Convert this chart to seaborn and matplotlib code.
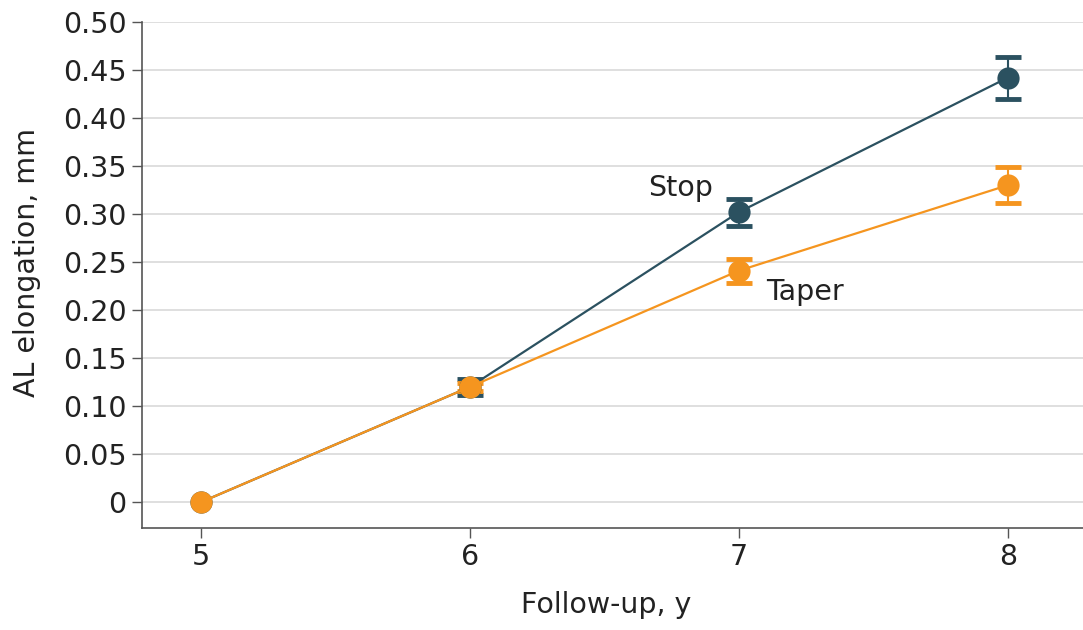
import matplotlib
matplotlib.use("Agg")
import matplotlib.pyplot as plt
import seaborn as sns
import pandas as pd

years = [5, 6, 7, 8]
stop_vals = [0.0, 0.12, 0.302, 0.442]
stop_err = [0.0, 0.008, 0.014, 0.022]
taper_vals = [0.0, 0.12, 0.241, 0.330]
taper_err = [0.0, 0.004, 0.0125, 0.019]
series_names = ["Stop", "Taper"]
colors = {"Stop": "#2b5160", "Taper": "#f5951f"}

df = pd.DataFrame({
    "year": years * 2,
    "value": stop_vals + taper_vals,
    "err": stop_err + taper_err,
    "group": ["Stop"] * 4 + ["Taper"] * 4,
})

sns.set_theme(style="white")
plt.rcParams["font.family"] = ["DejaVu Sans"]
FS = 20.5

fig = plt.figure(figsize=(10.83, 6.3), dpi=100)
ax = fig.add_axes([142 / 1083, 1 - 528 / 630, (1083 - 142) / 1083, (528 - 22) / 630])

for name in series_names:
    sub = df[df["group"] == name]
    c = colors[name]
    eb = sub[sub["err"] > 0]
    ax.errorbar(eb["year"], eb["value"], yerr=eb["err"], fmt="none",
                ecolor=c, elinewidth=1.5, capsize=9.4, capthick=3.5, zorder=3)
    sns.lineplot(data=sub, x="year", y="value", ax=ax, color=c, linewidth=1.6,
                 marker="o", markersize=16, markeredgewidth=0, zorder=4)

ax.set_xlim(4.78, 8.28)
ax.set_ylim(-0.027, 0.50)
ax.set_xticks(years)
ax.set_xticklabels([str(y) for y in years])
yt = [i * 0.05 for i in range(11)]
ax.set_yticks(yt)
ax.set_yticklabels(["0"] + [f"{v:.2f}" for v in yt[1:]])
ax.yaxis.grid(True, color="#d9d9d9", linewidth=1.2)
ax.xaxis.grid(False)
for s in ["top", "right"]:
    ax.spines[s].set_visible(False)
for s in ["left", "bottom"]:
    ax.spines[s].set_color("#555555")
    ax.spines[s].set_linewidth(1.2)
ax.tick_params(axis="both", which="both", length=7, width=1, color="#555555",
               labelsize=FS, labelcolor="#222222", left=True, bottom=True, pad=4)
ax.set_xlabel("Follow-up, y", fontsize=FS, color="#222222", labelpad=14)
ax.set_ylabel("AL elongation, mm", fontsize=FS, color="#222222")
ax.yaxis.set_label_coords(-0.107, 0.524)
ax.xaxis.set_label_coords(0.493, -0.125)
ax.xaxis.label.set_va("top")

ax.text(6.905, 0.327, "Stop", fontsize=FS, color="#222222", ha="right", va="center")
ax.text(7.10, 0.219, "Taper", fontsize=FS, color="#222222", ha="left", va="center")

fig.savefig("out.png", dpi=100)
